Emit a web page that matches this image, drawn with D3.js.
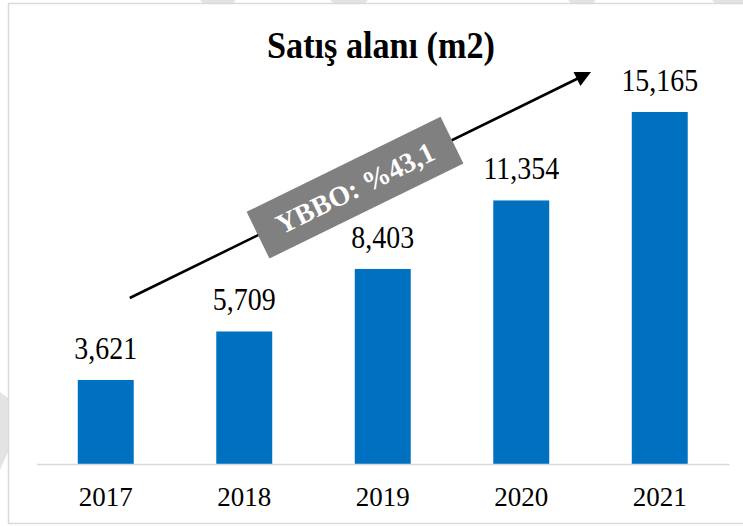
<!DOCTYPE html>
<html>
<head>
<meta charset="utf-8">
<script src="https://cdn.jsdelivr.net/npm/d3@7/dist/d3.min.js"></script>
<style>
  html, body { margin: 0; padding: 0; background: #fff; }
  svg { display: block; }
  text { font-family: "Liberation Serif", "Times New Roman", serif; }
</style>
</head>
<body>
<div id="chart"></div>
<script>
// Satış alanı (m2) by year
const years = ['2017', '2018', '2019', '2020', '2021'];
const salesArea = [3621, 5709, 8403, 11354, 15165];
const chartTitle = 'Satış alanı (m2)';
const cagrLabel = 'YBBO: %43,1';

const W = 743;
const H = 527;
const baseY = 464;

const svg = d3.select('#chart')
  .append('svg')
  .attr('width', W)
  .attr('height', H);

// faint watermark pieces peeking round the frame
const ghost = [
  [[200, 0], [236, 0], [232, 4], [204, 4]],
  [[330, 0], [368, 0], [364, 4], [334, 4]],
  [[568, 0], [596, 0], [592, 4], [572, 4]],
  [[712, 0], [743, 0], [743, 4], [716, 4]],
  [[0, 392], [8, 398], [8, 452], [0, 470]]
];
svg.selectAll('.ghost')
  .data(ghost)
  .join('polygon')
  .attr('class', 'ghost')
  .attr('points', d => d.map(p => p.join(',')).join(' '))
  .attr('fill', '#e3e3e3');

// frame
svg.append('rect')
  .attr('x', 8.5)
  .attr('y', 3.5)
  .attr('width', 745)
  .attr('height', 520)
  .attr('fill', 'none')
  .attr('stroke', '#d9d9d9')
  .attr('stroke-width', 1.5);

const x = d3.scaleBand()
  .domain(years)
  .range([36.5, 729])
  .paddingInner(0.596)
  .paddingOuter(0.298);

const y = d3.scaleLinear()
  .domain([0, 16000])
  .range([baseY, baseY - 371.4]);

const data = years.map((yr, i) => ({ year: yr, value: salesArea[i] }));

svg.selectAll('.bar')
  .data(data)
  .join('rect')
  .attr('class', 'bar')
  .attr('x', d => x(d.year))
  .attr('y', d => y(d.value))
  .attr('width', x.bandwidth())
  .attr('height', d => y(0) - y(d.value))
  .attr('fill', '#0070c0');

// category axis
const axis = svg.append('g')
  .attr('transform', `translate(0,${baseY})`)
  .call(d3.axisBottom(x).tickSize(0).tickPadding(22.5));
axis.select('.domain')
  .attr('stroke', '#d9d9d9')
  .attr('stroke-width', 1.5);
axis.selectAll('.tick text')
  .attr('font-family', '"Liberation Serif", "Times New Roman", serif')
  .attr('font-size', 27)
  .attr('fill', '#000');

// value labels (a touch condensed, like the source)
const fmt = d3.format(',');
svg.selectAll('.val')
  .data(data)
  .join('text')
  .attr('class', 'val')
  .attr('transform', d =>
    `translate(${x(d.year) + x.bandwidth() / 2},${y(d.value) - 21}) scale(0.9,1)`)
  .attr('text-anchor', 'middle')
  .attr('font-size', 31)
  .attr('fill', '#000')
  .text(d => fmt(d.value));

// title (slightly condensed like the source)
svg.append('text')
  .attr('transform', 'translate(381,58) scale(0.9,1)')
  .attr('text-anchor', 'middle')
  .attr('font-size', 38)
  .attr('font-weight', 'bold')
  .attr('fill', '#000')
  .text(chartTitle);

// growth arrow
const defs = svg.append('defs');
defs.append('marker')
  .attr('id', 'head')
  .attr('viewBox', '0 0 10 10')
  .attr('refX', 2)
  .attr('refY', 5)
  .attr('markerWidth', 7)
  .attr('markerHeight', 6)
  .attr('markerUnits', 'strokeWidth')
  .attr('orient', 'auto')
  .append('path')
  .attr('d', 'M0,0 L10,5 L0,10 Z')
  .attr('fill', '#000');

const start = [x('2017') + x.bandwidth() / 2 + 24, y(7150)];
const end = [x('2021') - 52, y(16650)];
svg.append('line')
  .attr('x1', start[0])
  .attr('y1', start[1])
  .attr('x2', end[0])
  .attr('y2', end[1])
  .attr('stroke', '#000')
  .attr('stroke-width', 2.6)
  .attr('marker-end', 'url(#head)');

// CAGR box
const ang = Math.atan2(end[1] - start[1], end[0] - start[0]) * 180 / Math.PI;
const cx = 355;
const cy = start[1] + (cx - start[0]) * (end[1] - start[1]) / (end[0] - start[0]);
const box = svg.append('g')
  .attr('transform', `translate(${cx},${cy}) rotate(${ang})`);
box.append('rect')
  .attr('x', -108)
  .attr('y', -26)
  .attr('width', 216)
  .attr('height', 52)
  .attr('fill', '#808080');
box.append('text')
  .attr('x', 0)
  .attr('y', 10)
  .attr('text-anchor', 'middle')
  .attr('font-size', 28)
  .attr('font-weight', 'bold')
  .attr('fill', '#fff')
  .text(cagrLabel);
</script>
</body>
</html>
